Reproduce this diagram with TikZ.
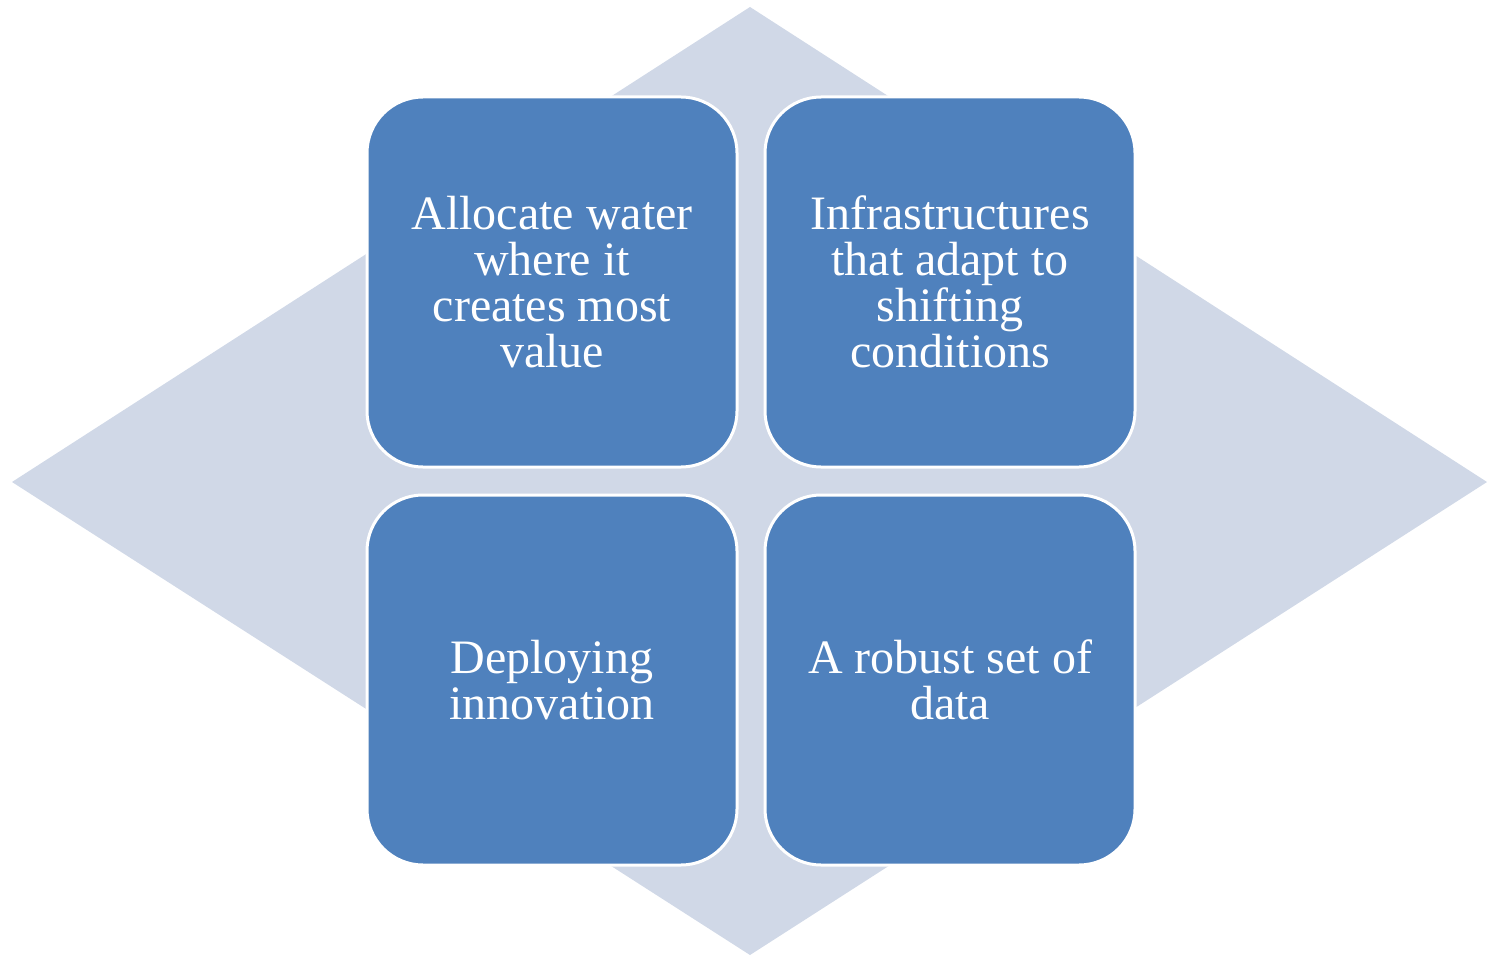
\documentclass[tikz,border=0pt]{standalone}
\usepackage{fontspec}
\setmainfont{Liberation Serif}
\usepackage{xcolor}
\definecolor{tileblue}{HTML}{4F81BD}
\definecolor{backdiamond}{HTML}{D0D8E7}

\begin{document}
\begin{tikzpicture}[x=0.5pt, y=-0.5pt, inner sep=3pt]
		\tikzstyle{every node}=[align=center]
		\tikzstyle{tile}=[fill=tileblue, draw=white, line width=1.5pt, rounded corners=28pt, minimum width=185pt, minimum height=185pt, text=white, font=\fontsize{24}{23}\selectfont]
			\useasboundingbox (0, 0) rectangle (1487, 957);
			\fill[backdiamond] (12, 482) -- (750, 7) -- (1487, 482) -- (750, 955) -- cycle;

			\node[tile] (allocate) at (552, 282) {Allocate water\\where it\\creates most\\value};
			\node[tile] (infra) at (950, 282) {Infrastructures\\that adapt to\\shifting\\conditions};
			\node[tile] (deploy) at (552, 680) {Deploying\\innovation};
			\node[tile] (data) at (950, 680) {A robust set of\\data};
		\end{tikzpicture}
\end{document}
